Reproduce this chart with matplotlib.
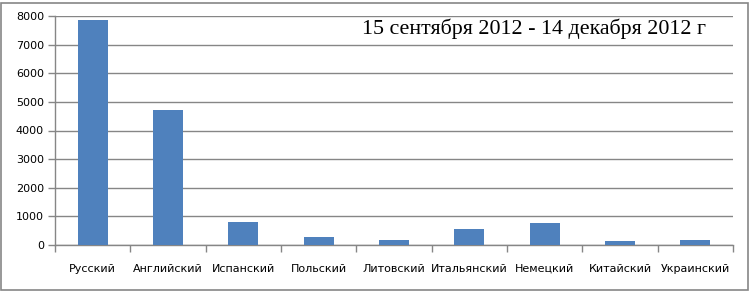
import numpy as np
import matplotlib.pyplot as plt
import matplotlib.transforms as mtransforms
from matplotlib.patches import Rectangle

languages = ['Русский', 'Английский', 'Испанский', 'Польский', 'Литовский',
             'Итальянский', 'Немецкий', 'Китайский', 'Украинский']
visits = [7860, 4720, 810, 280, 175, 560, 770, 140, 175]
y_ticks = [0, 1000, 2000, 3000, 4000, 5000, 6000, 7000, 8000]

fig = plt.figure(figsize=(7.5, 2.91), dpi=100)
ax = fig.add_axes([55 / 750, 1 - 245 / 291, 678 / 750, 229 / 291])

x = np.arange(len(languages))
ax.bar(x, visits, width=0.4, color='#4F81BD', zorder=3)

ax.set_xlim(-0.5, len(languages) - 0.5)
ax.set_ylim(0, 8000)
ax.set_yticks(y_ticks)
ax.set_yticklabels([str(v) for v in y_ticks], fontsize=8)
ax.set_xticks(np.arange(-0.5, len(languages)))
ax.set_xticklabels([])
ax.tick_params(axis='x', length=5, color='#868686', width=1)
ax.tick_params(axis='y', length=5, color='#868686', width=1, pad=3)

# category labels sharing one baseline
trans = mtransforms.blended_transform_factory(ax.transData, fig.transFigure)
for xi, name in zip(x, languages):
    ax.text(xi, 1 - 272 / 291, name, transform=trans, fontsize=8,
            ha='center', va='baseline')

ax.grid(axis='y', color='#868686', linewidth=1, zorder=0)
for s in ['top', 'right']:
    ax.spines[s].set_visible(False)
for s in ['left', 'bottom']:
    ax.spines[s].set_color('#868686')
    ax.spines[s].set_linewidth(1)

fig.text(362 / 750, 1 - 29 / 291, '15 сентября 2012 - 14 декабря 2012 г',
         family='Liberation Serif', fontsize=15.8, ha='left', va='center')

fig.patches.append(Rectangle((1 / 750, 1 / 291), 747 / 750, 287 / 291,
                             transform=fig.transFigure, fill=False,
                             edgecolor='#868686', linewidth=1.2))

fig.savefig('out.png', dpi=100)
